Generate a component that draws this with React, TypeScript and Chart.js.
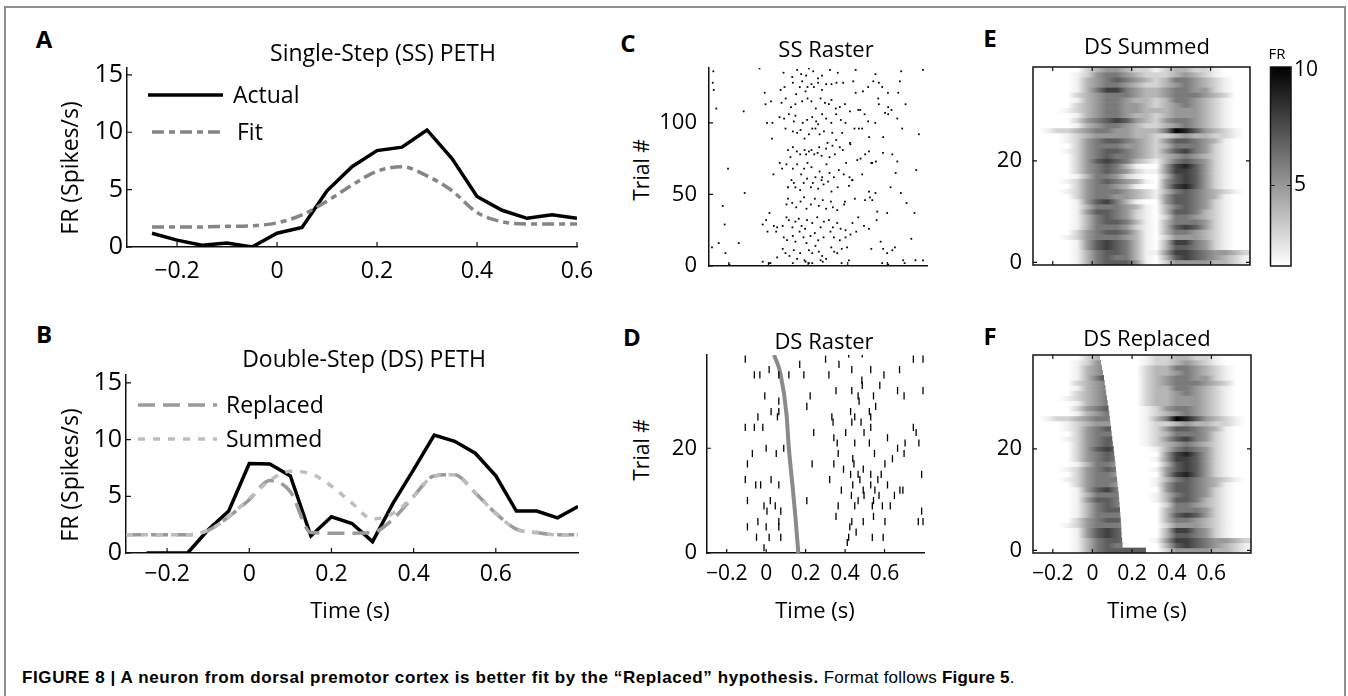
import React, { useEffect, useRef } from 'react';
import { Chart, registerables } from 'chart.js';
Chart.register(...registerables);

const FONT = '"Open Sans", "Noto Sans", sans-serif';
const INK = '#111111';

// ---------- Panel A : single-step PETH ----------
const ssTime = [-0.25, -0.2, -0.15, -0.1, -0.05, 0, 0.05, 0.1, 0.15, 0.2, 0.25, 0.3, 0.35, 0.4, 0.45, 0.5, 0.55, 0.6];
const ssActual = [1.2, 0.6, 0.15, 0.35, 0, 1.2, 1.7, 4.9, 7.0, 8.4, 8.7, 10.2, 7.7, 4.4, 3.2, 2.5, 2.8, 2.5];
const ssFit = [1.75, 1.75, 1.75, 1.8, 1.85, 2.1, 2.8, 4.0, 5.4, 6.6, 7.0, 6.2, 4.9, 3.0, 2.2, 2.0, 2.0, 2.0];
const pethXTicks = [-0.2, 0, 0.2, 0.4, 0.6];
const frTicks = [0, 5, 10, 15];

// ---------- Panel B : double-step PETH ----------
const dsTime = [-0.25, -0.2, -0.15, -0.1, -0.05, 0, 0.05, 0.1, 0.15, 0.2, 0.25, 0.3, 0.35, 0.4, 0.45, 0.5, 0.55, 0.6, 0.65, 0.7, 0.75, 0.8];
const dsActual = [0, 0, 0, 2.05, 3.7, 7.9, 7.85, 6.8, 1.5, 3.2, 2.6, 1.0, 4.4, 7.35, 10.4, 9.85, 8.8, 6.8, 3.7, 3.7, 3.1, 4.1];
const dsModelTime = [-0.3, -0.25, -0.2, -0.15, -0.1, -0.05, 0, 0.05, 0.1, 0.15, 0.2, 0.25, 0.3, 0.35, 0.4, 0.45, 0.5, 0.55, 0.6, 0.65, 0.7, 0.75, 0.8];
const dsReplaced = [1.6, 1.6, 1.6, 1.6, 2.0, 3.2, 4.7, 6.4, 5.4, 1.8, 1.75, 1.75, 1.8, 3.0, 5.0, 6.8, 6.9, 5.3, 3.5, 2.1, 1.8, 1.6, 1.6];
const dsSummed = [1.6, 1.6, 1.6, 1.6, 2.0, 3.2, 4.8, 6.4, 7.2, 7.0, 5.9, 4.4, 3.0, 3.5, 5.0, 6.8, 6.9, 5.3, 3.5, 2.1, 1.8, 1.6, 1.6];

// ---------- Panel C : SS raster  [time (s), trial] ----------
const ssRasterSpikes: [number, number][] = [
  [-0.278, 136], [-0.045, 138], [0.076, 135], [0.145, 137], [0.165, 134], [0.204, 138], [0.226, 136], [0.27, 133], [0.31, 137], [0.35, 135], [0.44, 137], [0.54, 134], [0.67, 136], [0.78, 137], [0.12, 132], [0.25, 131], [0.19, 133],
  [-0.281, 128], [-0.276, 123], [-0.019, 121], [0.061, 123], [0.081, 125], [0.123, 128], [0.14, 120], [0.158, 125], [0.17, 129], [0.187, 122], [0.197, 125], [0.217, 127], [0.229, 125], [0.251, 128], [0.27, 123], [0.291, 127], [0.318, 127], [0.343, 128], [0.377, 128], [0.428, 129], [0.44, 121], [0.477, 122], [0.503, 125], [0.529, 129], [0.557, 128], [0.574, 125], [0.603, 121], [0.655, 121], [0.663, 129],
  [-0.263, 110], [-0.125, 108], [-0.015, 113], [0.013, 115], [0.066, 114], [0.087, 117], [0.114, 111], [0.136, 113], [0.17, 115], [0.197, 117], [0.217, 115], [0.239, 110], [0.263, 117], [0.285, 114], [0.305, 113], [0.318, 116], [0.34, 110], [0.36, 111], [0.386, 113], [0.411, 108], [0.453, 109], [0.463, 109], [0.554, 117], [0.557, 113], [0.588, 107], [0.604, 111], [0.621, 109], [0.692, 113],
  [-0.007, 100], [0.02, 100], [0.056, 104], [0.079, 103], [0.103, 106], [0.128, 101], [0.136, 105], [0.173, 100], [0.195, 102], [0.221, 104], [0.241, 101], [0.251, 99], [0.271, 106], [0.291, 103], [0.317, 100], [0.342, 106], [0.365, 102], [0.389, 100], [0.434, 96], [0.456, 96], [0.473, 96], [0.485, 106], [0.503, 101], [0.539, 100], [0.604, 106], [0.65, 103], [0.675, 96],
  [0.018, 89], [0.086, 96], [0.123, 94], [0.145, 93], [0.162, 95], [0.182, 89], [0.204, 92], [0.221, 96], [0.237, 96], [0.258, 92], [0.28, 94], [0.298, 86], [0.322, 93], [0.342, 88], [0.372, 93], [0.411, 86], [0.508, 90], [0.579, 90], [0.759, 92],
  [0.099, 81], [0.111, 76], [0.123, 83], [0.143, 80], [0.16, 78], [0.182, 81], [0.19, 78], [0.204, 80], [0.217, 81], [0.231, 78], [0.248, 79], [0.256, 83], [0.268, 77], [0.291, 82], [0.308, 76], [0.323, 84], [0.335, 78], [0.36, 83], [0.375, 81], [0.392, 72], [0.413, 85], [0.448, 74], [0.465, 75], [0.488, 78], [0.507, 80], [0.524, 72], [0.542, 73], [0.578, 79], [0.625, 78], [0.65, 73],
  [-0.204, 68], [0.025, 64], [0.057, 72], [0.069, 68], [0.091, 71], [0.123, 68], [0.145, 71], [0.165, 64], [0.18, 68], [0.197, 72], [0.217, 69], [0.237, 62], [0.258, 66], [0.271, 62], [0.293, 71], [0.308, 65], [0.33, 62], [0.355, 67], [0.38, 64], [0.409, 62], [0.423, 60], [0.473, 64], [0.519, 72], [0.642, 65], [0.746, 67],
  [-0.12, 51], [0.099, 55], [0.116, 60], [0.128, 58], [0.136, 55], [0.16, 53], [0.178, 58], [0.195, 61], [0.214, 55], [0.224, 58], [0.251, 54], [0.268, 60], [0.278, 57], [0.301, 59], [0.318, 52], [0.349, 55], [0.406, 56], [0.423, 60], [0.507, 52], [0.54, 51], [0.616, 55], [0.668, 51],
  [-0.231, 42], [0.091, 43], [0.099, 47], [0.12, 44], [0.14, 41], [0.162, 45], [0.18, 48], [0.192, 40], [0.214, 43], [0.234, 47], [0.254, 42], [0.274, 46], [0.291, 40], [0.315, 45], [0.325, 41], [0.347, 39], [0.382, 43], [0.386, 45], [0.436, 47], [0.487, 46], [0.512, 48], [0.524, 46], [0.549, 38], [0.599, 37], [0.697, 44], [0.737, 37],
  [-0.221, 29], [-0.029, 29], [-0.012, 32], [0.005, 37], [0.027, 28], [0.044, 27], [0.072, 28], [0.091, 34], [0.103, 32], [0.121, 27], [0.136, 31], [0.153, 33], [0.167, 28], [0.185, 26], [0.195, 32], [0.221, 30], [0.246, 34], [0.263, 27], [0.28, 31], [0.305, 32], [0.325, 27], [0.347, 30], [0.364, 26], [0.389, 25], [0.424, 30], [0.453, 34], [0.482, 28], [0.507, 26], [0.546, 32],
  [-0.251, 16], [-0.15, 16], [-0.005, 24], [0.039, 24], [0.077, 20], [0.094, 18], [0.123, 21], [0.136, 17], [0.157, 24], [0.177, 20], [0.192, 16], [0.212, 21], [0.234, 23], [0.251, 18], [0.278, 20], [0.313, 24], [0.33, 20], [0.36, 18], [0.389, 20], [0.414, 22], [0.443, 24], [0.566, 17], [0.721, 19],
  [-0.285, 13], [-0.217, 9], [0.044, 6], [0.072, 12], [0.086, 9], [0.106, 7], [0.128, 11], [0.145, 5], [0.16, 9], [0.182, 4], [0.204, 11], [0.221, 9], [0.237, 14], [0.254, 10], [0.271, 7], [0.291, 5], [0.317, 13], [0.332, 10], [0.347, 9], [0.37, 12], [0.397, 13], [0.406, 4], [0.519, 12], [0.579, 12], [0.599, 9], [0.625, 11], [0.638, 13],
  [-0.029, 3], [0.002, 2], [0.01, 2], [0.123, 2], [0.187, 3], [0.204, 2], [0.221, 2], [0.263, 4], [0.274, 3], [0.369, 2], [0.574, 2], [0.604, 1], [0.68, 4], [0.687, 2], [0.742, 4], [0.78, 4], [-0.197, 1],
];
const ssTrialTicks = [0, 50, 100];

// ---------- Panel D : DS raster  [trial, spike times] ----------
const dsRasterRows: [number, number[]][] = [
  [38, [0.418, 0.487]],
  [37, [-0.106, 0.301, 0.746, 0.795]],
  [36, [0.17, 0.369]],
  [35, [0.015, 0.434, 0.53, 0.676]],
  [34, [-0.06, -0.032, 0.064, 0.115, 0.191, 0.318, 0.597]],
  [33, [0.485]],
  [32, [0.487, 0.576]],
  [31, [0.354, 0.434, 0.666, 0.795]],
  [30, [-0.007, 0.223, 0.466, 0.544, 0.699]],
  [29, [0.064, 0.471]],
  [28, [0.206, 0.555]],
  [27, [0.025, 0.064, 0.428, 0.523]],
  [26, [-0.042, 0.057, 0.333, 0.449, 0.53]],
  [25, [0.339, 0.434, 0.481]],
  [24, [-0.106, -0.06, -0.017, 0.53, 0.746]],
  [23, [0.241, 0.403, 0.496, 0.76]],
  [22, [0.343, 0.615]],
  [21, [0.36, 0.449, 0.523, 0.704, 0.774]],
  [20, [0.0, 0.089, 0.666]],
  [19, [-0.07, 0.051, 0.365, 0.549, 0.699]],
  [18, [0.439, 0.64]],
  [17, [-0.095, 0.233, 0.343, 0.445, 0.602]],
  [16, [0.392, 0.492]],
  [15, [0.428, 0.466, 0.53, 0.583, 0.788]],
  [14, [-0.106, 0.025, 0.322, 0.475, 0.566]],
  [13, [-0.053, -0.028, 0.064, 0.439, 0.53, 0.615]],
  [12, [0.381, 0.492, 0.551, 0.678, 0.693]],
  [11, [0.432, 0.496, 0.572, 0.65]],
  [10, [-0.095, 0.021, 0.206, 0.466, 0.544]],
  [9, [-0.011, 0.046, 0.365, 0.449, 0.538, 0.589, 0.629]],
  [8, [0.004, 0.074, 0.788]],
  [7, [0.354, 0.544]],
  [6, [-0.042, 0.064, 0.434, 0.492, 0.602, 0.771, 0.795]],
  [5, [-0.095, 0.0, 0.064, 0.424]],
  [4, [0.456]],
  [3, [-0.049, 0.015, 0.074, 0.418, 0.538, 0.593]],
  [2, [0.411]],
  [1, [-0.011]],
];
const dsStepTrials = [0, 7, 13.4, 20, 26.5, 34.3, 37.8];
const dsStepTimes = [0.163, 0.148, 0.132, 0.115, 0.103, 0.072, 0.04];
const dsTrialTicks = [0, 20];

// ---------- Panels E/F : heat maps (FR, spikes/s) ----------
const heatBinCenters = [-0.275, -0.225, -0.175, -0.125, -0.075, -0.025, 0.025, 0.075, 0.125, 0.175, 0.225, 0.275, 0.325, 0.375, 0.425, 0.475, 0.525, 0.575, 0.625, 0.675, 0.725, 0.775];
const cMin = 1.5;
const cMax = 10.15;
const colorbarTicks = [5, 10];

// DS Summed, trial 0 (bottom) .. 38 (top)
const dsSummedRows = [
  [1, 1, 1, 1, 2, 4, 6, 7, 7, 7, 5, 2, 1, 3, 5, 5, 5, 5, 4, 4, 3, 2],
  [1, 1, 1, 1, 2, 4, 6, 7, 6, 6, 4, 2, 1, 4, 7, 8, 7, 6, 5, 4, 3, 2],
  [1, 1, 1, 1, 2, 4, 6, 7, 7, 6, 4, 2, 2, 5, 8, 8, 7, 6, 5, 5, 4, 3],
  [1, 1, 1, 1, 2, 5, 7, 8, 7, 6, 4, 2, 1, 4, 7, 7, 6, 5, 3, 2, 1, 1],
  [1, 1, 1, 1, 2, 5, 7, 8, 7, 6, 4, 2, 1, 4, 8, 8, 6, 5, 3, 2, 1, 1],
  [1, 1, 1, 2, 3, 5, 6, 6, 6, 5, 4, 2, 1, 3, 5, 5, 5, 4, 3, 2, 1, 1],
  [1, 1, 1, 1, 3, 5, 6, 7, 7, 6, 4, 2, 1, 4, 6, 6, 5, 4, 3, 2, 1, 1],
  [1, 1, 1, 1, 2, 4, 6, 6, 6, 5, 3, 2, 1, 4, 7, 8, 7, 5, 3, 2, 1, 1],
  [1, 1, 1, 1, 2, 4, 6, 7, 7, 6, 4, 2, 1, 4, 6, 6, 6, 5, 3, 2, 1, 1],
  [1, 1, 1, 1, 2, 4, 6, 7, 6, 5, 3, 2, 1, 3, 6, 6, 5, 4, 3, 2, 1, 1],
  [1, 1, 1, 1, 2, 5, 7, 7, 6, 5, 3, 2, 1, 4, 7, 7, 6, 4, 3, 2, 1, 1],
  [1, 1, 1, 1, 2, 4, 6, 6, 6, 5, 4, 2, 1, 4, 6, 7, 6, 5, 3, 2, 1, 1],
  [1, 1, 1, 1, 2, 5, 7, 8, 6, 4, 2, 1, 1, 5, 7, 7, 6, 5, 3, 2, 1, 1],
  [1, 1, 1, 1, 3, 5, 6, 6, 5, 5, 4, 3, 2, 5, 7, 7, 6, 5, 4, 2, 1, 1],
  [1, 1, 1, 2, 3, 5, 6, 6, 6, 5, 4, 3, 2, 4, 6, 7, 6, 5, 4, 3, 2, 1],
  [1, 1, 1, 1, 3, 5, 6, 6, 5, 4, 2, 1, 1, 5, 8, 9, 7, 5, 3, 2, 1, 1],
  [1, 1, 1, 2, 3, 5, 6, 7, 6, 5, 4, 2, 1, 5, 7, 8, 7, 5, 3, 2, 1, 1],
  [1, 1, 1, 1, 2, 4, 6, 6, 5, 3, 2, 1, 1, 4, 7, 8, 7, 5, 3, 2, 1, 1],
  [1, 1, 1, 1, 3, 5, 6, 7, 6, 5, 3, 2, 2, 5, 8, 8, 7, 5, 3, 2, 1, 1],
  [1, 1, 1, 1, 3, 5, 6, 7, 6, 4, 2, 1, 1, 5, 8, 9, 7, 5, 3, 2, 1, 1],
  [1, 1, 1, 1, 3, 5, 7, 8, 7, 6, 4, 3, 2, 4, 6, 7, 6, 5, 3, 2, 1, 1],
  [1, 1, 1, 1, 3, 5, 6, 7, 6, 6, 5, 4, 3, 4, 5, 6, 5, 4, 3, 2, 1, 1],
  [1, 1, 1, 2, 3, 5, 6, 7, 7, 6, 5, 4, 3, 5, 7, 8, 6, 5, 3, 2, 1, 1],
  [1, 1, 1, 1, 3, 5, 6, 6, 6, 5, 5, 4, 3, 4, 6, 6, 6, 5, 3, 2, 1, 1],
  [1, 1, 1, 2, 3, 5, 6, 7, 7, 6, 5, 4, 3, 5, 7, 7, 6, 5, 4, 2, 1, 1],
  [1, 1, 1, 2, 3, 4, 5, 5, 5, 5, 4, 4, 3, 3, 4, 5, 4, 4, 3, 3, 2, 1],
  [1, 2, 3, 3, 4, 5, 6, 6, 5, 5, 4, 4, 4, 6, 10, 9, 7, 5, 4, 3, 2, 1],
  [1, 1, 1, 1, 2, 4, 5, 6, 6, 5, 4, 3, 3, 4, 5, 6, 5, 4, 3, 2, 1, 1],
  [1, 1, 1, 1, 3, 5, 6, 7, 8, 7, 5, 4, 3, 5, 6, 6, 5, 4, 3, 2, 1, 1],
  [1, 1, 1, 1, 2, 4, 5, 6, 6, 5, 4, 4, 3, 4, 5, 5, 5, 4, 3, 2, 1, 1],
  [1, 1, 1, 2, 3, 4, 5, 6, 6, 5, 5, 4, 4, 4, 5, 5, 5, 4, 3, 2, 1, 1],
  [1, 1, 1, 1, 3, 4, 5, 6, 6, 5, 5, 4, 3, 4, 5, 6, 5, 4, 3, 2, 1, 1],
  [1, 1, 1, 1, 2, 4, 5, 6, 6, 5, 4, 4, 3, 4, 6, 6, 5, 4, 3, 2, 1, 1],
  [1, 1, 1, 1, 3, 4, 5, 6, 6, 6, 5, 4, 4, 5, 6, 6, 6, 5, 4, 3, 1, 1],
  [1, 1, 1, 1, 2, 4, 6, 8, 8, 6, 5, 4, 4, 5, 6, 6, 5, 5, 3, 2, 1, 1],
  [1, 1, 1, 1, 2, 4, 5, 6, 6, 5, 4, 3, 3, 4, 5, 6, 5, 4, 3, 2, 1, 1],
  [1, 1, 1, 1, 2, 4, 5, 6, 7, 6, 5, 4, 3, 4, 6, 6, 5, 4, 3, 2, 1, 1],
  [1, 1, 1, 1, 2, 3, 5, 6, 6, 5, 4, 3, 3, 3, 4, 5, 4, 3, 2, 1, 1, 1],
  [1, 1, 1, 1, 1, 3, 4, 5, 5, 4, 3, 3, 2, 3, 4, 4, 3, 3, 2, 1, 1, 1],
];

// DS Replaced: early response (bins -0.275..0.275), cut at the second step
const dsReplacedEarly = [
  [1, 1, 1, 1, 2, 4, 6, 7, 7, 7, 7, 7],
  [1, 1, 1, 1, 2, 4, 6, 7, 6, 6, 4, 2],
  [1, 1, 1, 1, 2, 4, 6, 7, 7, 6, 4, 2],
  [1, 1, 1, 1, 2, 5, 7, 8, 7, 6, 4, 2],
  [1, 1, 1, 1, 2, 5, 7, 8, 7, 6, 4, 2],
  [1, 1, 1, 2, 3, 5, 6, 6, 6, 5, 4, 2],
  [1, 1, 1, 1, 3, 5, 6, 7, 7, 6, 4, 2],
  [1, 1, 1, 1, 2, 4, 6, 6, 6, 5, 3, 2],
  [1, 1, 1, 1, 2, 4, 6, 7, 7, 6, 4, 2],
  [1, 1, 1, 1, 2, 4, 6, 7, 6, 5, 3, 2],
  [1, 1, 1, 1, 2, 5, 7, 7, 6, 5, 3, 2],
  [1, 1, 1, 1, 2, 4, 6, 6, 6, 5, 4, 2],
  [1, 1, 1, 1, 2, 5, 7, 8, 6, 4, 2, 1],
  [1, 1, 1, 1, 3, 5, 6, 6, 5, 5, 4, 3],
  [1, 1, 1, 2, 3, 5, 6, 6, 6, 5, 4, 3],
  [1, 1, 1, 1, 3, 5, 6, 6, 5, 4, 2, 1],
  [1, 1, 1, 2, 3, 5, 6, 7, 6, 5, 4, 2],
  [1, 1, 1, 1, 2, 4, 6, 6, 5, 3, 2, 1],
  [1, 1, 1, 1, 3, 5, 6, 7, 6, 5, 3, 2],
  [1, 1, 1, 1, 3, 5, 6, 7, 6, 4, 2, 1],
  [1, 1, 1, 1, 3, 5, 7, 8, 7, 6, 4, 3],
  [1, 1, 1, 1, 3, 5, 6, 7, 6, 6, 5, 4],
  [1, 1, 1, 2, 3, 5, 6, 7, 7, 6, 5, 4],
  [1, 1, 1, 1, 3, 5, 6, 6, 6, 5, 5, 4],
  [1, 1, 1, 2, 3, 5, 6, 7, 7, 6, 5, 4],
  [1, 1, 1, 2, 3, 4, 5, 5, 5, 5, 4, 4],
  [1, 2, 3, 3, 4, 5, 6, 6, 5, 5, 4, 4],
  [1, 1, 1, 1, 2, 4, 5, 6, 6, 5, 4, 3],
  [1, 1, 1, 1, 3, 5, 6, 7, 8, 7, 5, 4],
  [1, 1, 1, 1, 2, 4, 5, 6, 6, 5, 4, 4],
  [1, 1, 1, 2, 3, 4, 5, 6, 6, 5, 5, 4],
  [1, 1, 1, 1, 3, 4, 5, 6, 6, 5, 5, 4],
  [1, 1, 1, 1, 2, 4, 5, 6, 6, 5, 4, 4],
  [1, 1, 1, 1, 3, 4, 5, 6, 6, 6, 5, 4],
  [1, 1, 1, 1, 2, 4, 6, 8, 8, 6, 5, 4],
  [1, 1, 1, 1, 2, 4, 5, 6, 6, 5, 4, 3],
  [1, 1, 1, 1, 2, 4, 5, 6, 7, 6, 5, 4],
  [1, 1, 1, 1, 2, 3, 5, 6, 6, 5, 4, 3],
  [1, 1, 1, 1, 1, 3, 4, 5, 5, 4, 3, 3],
];
// DS Replaced: late response (bins 0.225..0.775)
const dsReplacedLate = [
  [1, 1, 1, 3, 5, 5, 5, 5, 4, 4, 3, 2],
  [1, 1, 1, 4, 7, 8, 7, 6, 5, 4, 3, 2],
  [1, 1, 2, 5, 8, 8, 7, 6, 5, 5, 4, 3],
  [1, 1, 1, 4, 7, 7, 6, 5, 3, 2, 1, 1],
  [1, 1, 1, 4, 8, 8, 6, 5, 3, 2, 1, 1],
  [1, 1, 1, 3, 5, 5, 5, 4, 3, 2, 1, 1],
  [1, 1, 1, 4, 6, 6, 5, 4, 3, 2, 1, 1],
  [1, 1, 1, 4, 7, 8, 7, 5, 3, 2, 1, 1],
  [1, 1, 1, 4, 6, 6, 6, 5, 3, 2, 1, 1],
  [1, 1, 1, 3, 6, 6, 5, 4, 3, 2, 1, 1],
  [1, 1, 2, 4, 7, 7, 6, 4, 3, 2, 1, 1],
  [1, 1, 2, 4, 6, 7, 6, 5, 3, 2, 1, 1],
  [1, 1, 1, 5, 7, 7, 6, 5, 3, 2, 1, 1],
  [1, 1, 2, 5, 7, 7, 6, 5, 4, 2, 1, 1],
  [1, 1, 2, 4, 6, 7, 6, 5, 4, 3, 2, 1],
  [1, 1, 1, 5, 8, 9, 7, 5, 3, 2, 1, 1],
  [1, 1, 2, 5, 7, 8, 7, 5, 3, 2, 1, 1],
  [1, 1, 1, 4, 7, 8, 7, 5, 3, 2, 1, 1],
  [1, 1, 2, 5, 8, 8, 7, 5, 3, 2, 1, 1],
  [1, 1, 1, 5, 8, 9, 7, 5, 3, 2, 1, 1],
  [1, 1, 2, 4, 6, 7, 6, 5, 3, 2, 1, 1],
  [1, 2, 3, 4, 5, 6, 5, 4, 3, 2, 1, 1],
  [1, 2, 3, 5, 7, 8, 6, 5, 3, 2, 1, 1],
  [1, 2, 3, 4, 6, 6, 6, 5, 3, 2, 1, 1],
  [1, 2, 3, 5, 7, 7, 6, 5, 4, 2, 1, 1],
  [1, 2, 3, 3, 4, 5, 4, 4, 3, 3, 2, 1],
  [1, 2, 4, 6, 10, 9, 7, 5, 4, 3, 2, 1],
  [1, 2, 3, 4, 5, 6, 5, 4, 3, 2, 1, 1],
  [1, 2, 3, 5, 6, 6, 5, 4, 3, 2, 1, 1],
  [1, 3, 4, 4, 5, 5, 5, 4, 3, 2, 1, 1],
  [1, 3, 4, 4, 5, 5, 5, 4, 3, 2, 1, 1],
  [1, 3, 4, 4, 5, 6, 5, 4, 3, 2, 1, 1],
  [1, 3, 4, 4, 6, 6, 5, 4, 3, 2, 1, 1],
  [1, 3, 4, 5, 6, 6, 6, 5, 4, 3, 1, 1],
  [1, 3, 4, 5, 6, 6, 5, 5, 3, 2, 1, 1],
  [1, 3, 4, 4, 5, 6, 5, 4, 3, 2, 1, 1],
  [1, 3, 4, 4, 6, 6, 5, 4, 3, 2, 1, 1],
  [1, 2, 3, 3, 4, 5, 4, 3, 2, 1, 1, 1],
  [1, 2, 3, 3, 4, 4, 3, 3, 2, 1, 1, 1],
];
// second-step (cut) time for each replaced row
const dsReplacedCut = [0.27, 0.152, 0.15, 0.147, 0.146, 0.145, 0.143, 0.141, 0.139, 0.137, 0.135, 0.133, 0.13, 0.127, 0.124, 0.121, 0.119, 0.116, 0.113, 0.11, 0.107, 0.103, 0.1, 0.097, 0.094, 0.091, 0.088, 0.085, 0.081, 0.077, 0.073, 0.069, 0.066, 0.062, 0.058, 0.053, 0.048, 0.043, 0.038];
const heatTrialTicks = [0, 20];

// ---------- helpers ----------
const fmt = (v: number) => (v < 0 ? '\u2212' + String(Math.abs(v)) : String(v));
const grayOf = (v: number) => {
  const f = Math.min(1, Math.max(0, (v - cMin) / (cMax - cMin)));
  const g = Math.round(255 * (1 - f));
  return `rgb(${g},${g},${g})`;
};

type Box = { x: number; y: number; w: number; h: number };
type Area = { l: number; t: number; r: number; b: number };

function padFor(c: Box, a: Area, yW: number, xH: number, yRight = false) {
  return yRight
    ? { left: a.l - c.x, right: c.x + c.w - a.r - yW, top: a.t - c.y, bottom: c.y + c.h - a.b - xH }
    : { left: a.l - c.x - yW, right: c.x + c.w - a.r, top: a.t - c.y, bottom: c.y + c.h - a.b - xH };
}

function lin(min: number, max: number, tickVals: number[], o: { size: number; pad: number; fs: number; labels?: boolean; border?: boolean; position?: string; display?: boolean }) {
  return {
    type: 'linear',
    min,
    max,
    position: o.position,
    display: o.display ?? true,
    grid: { display: false, drawTicks: false },
    border: { display: o.border ?? true, color: INK, width: 1.5 },
    ticks: {
      display: o.labels ?? true,
      padding: o.pad,
      autoSkip: false,
      maxRotation: 0,
      minRotation: 0,
      color: '#000',
      font: { family: FONT, size: o.fs },
      callback: (v: number) => fmt(v),
    },
    afterBuildTicks: (s: any) => {
      s.ticks = tickVals.map((value) => ({ value }));
    },
    afterFit: (s: any) => {
      if (s.isHorizontal()) s.height = o.size;
      else s.width = o.size;
      s.paddingTop = 0;
      s.paddingBottom = 0;
      s.paddingLeft = 0;
      s.paddingRight = 0;
    },
  };
}

// ---------- plugins ----------
const inTicks = {
  id: 'inTicks',
  afterDatasetsDraw(chart: any, _a: any, o: any) {
    if (!o || !o.len) return;
    const { ctx, chartArea: a } = chart;
    const xs = chart.scales.x;
    const ys = chart.scales.y;
    ctx.save();
    ctx.strokeStyle = INK;
    ctx.lineWidth = 1.2;
    ctx.beginPath();
    if (o.x && xs) {
      for (const t of xs.ticks) {
        const p = xs.getPixelForValue(t.value);
        ctx.moveTo(p, a.bottom);
        ctx.lineTo(p, a.bottom - o.len);
        if (o.mirror) {
          ctx.moveTo(p, a.top);
          ctx.lineTo(p, a.top + o.len);
        }
      }
    }
    if (o.y && ys) {
      for (const t of ys.ticks) {
        const p = ys.getPixelForValue(t.value);
        ctx.moveTo(a.left, p);
        ctx.lineTo(a.left + o.len, p);
        if (o.mirror) {
          ctx.moveTo(a.right, p);
          ctx.lineTo(a.right - o.len, p);
        }
      }
    }
    ctx.stroke();
    if (o.box) {
      ctx.lineWidth = 1.5;
      ctx.strokeRect(a.left, a.top, a.right - a.left, a.bottom - a.top);
    }
    ctx.restore();
  },
};

const heatLayers = {
  id: 'heatLayers',
  beforeDatasetsDraw(chart: any, _a: any, o: any) {
    if (!o || !o.layers) return;
    const { ctx, chartArea: a } = chart;
    const xs = chart.scales.x;
    const ys = chart.scales.y;
    ctx.save();
    ctx.beginPath();
    ctx.rect(a.left, a.top, a.right - a.left, a.bottom - a.top);
    ctx.clip();
    for (const layer of o.layers) {
      const c: number[] = layer.centers;
      const c0 = c[0];
      const c1 = c[c.length - 1];
      const p0 = xs.getPixelForValue(c0);
      const p1 = xs.getPixelForValue(c1);
      layer.rows.forEach((vals: number[], r: number) => {
        const yt = ys.getPixelForValue(r + 0.5);
        const yb = ys.getPixelForValue(r - 0.5);
        const g = ctx.createLinearGradient(p0, 0, p1, 0);
        vals.forEach((v, i) => g.addColorStop((c[i] - c0) / (c1 - c0), grayOf(v)));
        let R = a.right;
        if (layer.cut) R = Math.min(R, xs.getPixelForValue(layer.cut[r]));
        ctx.fillStyle = g;
        ctx.fillRect(a.left, Math.min(yt, yb) - 0.3, R - a.left, Math.abs(yb - yt) + 0.6);
      });
    }
    ctx.restore();
  },
};

const colorbarFill = {
  id: 'colorbarFill',
  beforeDatasetsDraw(chart: any, _a: any, o: any) {
    if (!o || !o.on) return;
    const { ctx, chartArea: a } = chart;
    const ys = chart.scales.y;
    const pb = ys.getPixelForValue(cMin);
    const pt = ys.getPixelForValue(cMax);
    const g = ctx.createLinearGradient(0, pb, 0, pt);
    g.addColorStop(0, grayOf(cMin));
    g.addColorStop(1, grayOf(cMax));
    ctx.save();
    ctx.fillStyle = g;
    ctx.fillRect(a.left, a.top, a.right - a.left, a.bottom - a.top);
    ctx.restore();
  },
};

const innerLegend = {
  id: 'innerLegend',
  afterDatasetsDraw(chart: any, _a: any, o: any) {
    if (!o || !o.items) return;
    const ctx = chart.ctx;
    ctx.save();
    for (const it of o.items) {
      const ds = chart.data.datasets[it.ds];
      ctx.strokeStyle = ds.borderColor;
      ctx.lineWidth = ds.borderWidth;
      ctx.lineCap = 'butt';
      ctx.setLineDash(ds.borderDash || []);
      ctx.beginPath();
      ctx.moveTo(it.x0, it.y);
      ctx.lineTo(it.x1, it.y);
      ctx.stroke();
      ctx.setLineDash([]);
      ctx.fillStyle = '#000';
      ctx.font = `${o.fs}px ${FONT}`;
      ctx.textBaseline = 'middle';
      ctx.textAlign = 'left';
      ctx.fillText(ds.label, it.tx, it.y + 1);
    }
    ctx.restore();
  },
};

Chart.register(inTicks as any, heatLayers as any, colorbarFill as any, innerLegend as any);

const baseOpts = {
  animation: false,
  responsive: false,
  maintainAspectRatio: false,
  events: [],
};
const noLegend = { legend: { display: false }, tooltip: { enabled: false }, title: { display: false } };

// ---------- chart boxes ----------
const boxA: Box = { x: 60, y: 55, w: 540, h: 245 };
const areaA: Area = { l: 127, t: 68, r: 577, b: 247 };
const boxB: Box = { x: 60, y: 360, w: 540, h: 240 };
const areaB: Area = { l: 126, t: 375, r: 578, b: 553 };
const boxC: Box = { x: 655, y: 60, w: 290, h: 235 };
const areaC: Area = { l: 709, t: 68, r: 927, b: 266 };
const boxD: Box = { x: 655, y: 345, w: 290, h: 255 };
const areaD: Area = { l: 707, t: 355, r: 924, b: 553 };
const boxE: Box = { x: 990, y: 58, w: 268, h: 237 };
const areaE: Area = { l: 1033, t: 67, r: 1250, b: 265 };
const boxF: Box = { x: 990, y: 345, w: 268, h: 255 };
const areaF: Area = { l: 1033, t: 355, r: 1251, b: 553 };
const boxCB: Box = { x: 1262, y: 58, w: 60, h: 237 };
const areaCB: Area = { l: 1270.5, t: 67, r: 1291, b: 266 };

const pts = (xs: number[], ys: number[]) => xs.map((x, i) => ({ x, y: ys[i] }));

function makeA() {
  return {
    type: 'scatter',
    data: {
      datasets: [
        { label: 'Fit', data: pts(ssTime, ssFit), showLine: true, borderColor: '#858585', borderWidth: 3.5, borderDash: [12, 5, 6, 5], borderCapStyle: 'butt', pointRadius: 0, cubicInterpolationMode: 'monotone' },
        { label: 'Actual', data: pts(ssTime, ssActual), showLine: true, borderColor: '#000', borderWidth: 3.5, pointRadius: 0, tension: 0 },
      ],
    },
    options: {
      ...baseOpts,
      layout: { autoPadding: false, padding: padFor(boxA, areaA, 67, 40) },
      scales: {
        x: lin(-0.3, 0.6, pethXTicks, { size: 40, pad: 11, fs: 23 }),
        y: lin(0, 15.6, frTicks, { size: 67, pad: 4, fs: 25 }),
      },
      plugins: {
        ...noLegend,
        inTicks: { len: 5, x: true, y: true },
        innerLegend: {
          fs: 23,
          items: [
            { ds: 1, x0: 148 - boxA.x, x1: 223 - boxA.x, y: 95 - boxA.y, tx: 233 - boxA.x },
            { ds: 0, x0: 152 - boxA.x, x1: 222 - boxA.x, y: 132 - boxA.y, tx: 237 - boxA.x },
          ],
        },
      },
    },
  };
}

function makeB() {
  return {
    type: 'scatter',
    data: {
      datasets: [
        { label: 'Summed', data: pts(dsModelTime, dsSummed), showLine: true, borderColor: '#bdbdbd', borderWidth: 3.5, borderDash: [7, 8], borderCapStyle: 'butt', pointRadius: 0, cubicInterpolationMode: 'monotone' },
        { label: 'Replaced', data: pts(dsModelTime, dsReplaced), showLine: true, borderColor: '#9a9a9a', borderWidth: 3.5, borderDash: [17, 8], borderCapStyle: 'butt', pointRadius: 0, cubicInterpolationMode: 'monotone' },
        { label: 'Actual', data: pts(dsTime, dsActual), showLine: true, borderColor: '#000', borderWidth: 3.5, pointRadius: 0, tension: 0 },
      ],
    },
    options: {
      ...baseOpts,
      layout: { autoPadding: false, padding: padFor(boxB, areaB, 66, 40) },
      scales: {
        x: lin(-0.3, 0.8, pethXTicks, { size: 40, pad: 8, fs: 23 }),
        y: lin(0, 15.7, frTicks, { size: 66, pad: 4, fs: 25 }),
      },
      plugins: {
        ...noLegend,
        inTicks: { len: 5, x: true, y: true },
        innerLegend: {
          fs: 23,
          items: [
            { ds: 1, x0: 138 - boxB.x, x1: 217 - boxB.x, y: 405 - boxB.y, tx: 226 - boxB.x },
            { ds: 0, x0: 138 - boxB.x, x1: 217 - boxB.x, y: 439 - boxB.y, tx: 226 - boxB.x },
          ],
        },
      },
    },
  };
}

function makeC() {
  return {
    type: 'scatter',
    data: {
      datasets: [
        { label: 'spikes', data: ssRasterSpikes.map(([t, tr]) => ({ x: t, y: tr })), pointStyle: 'rect', pointRadius: 1.25, backgroundColor: '#000', borderWidth: 0 },
      ],
    },
    options: {
      ...baseOpts,
      layout: { autoPadding: false, padding: padFor(boxC, areaC, 54, 25) },
      scales: {
        x: lin(-0.3, 0.8, pethXTicks, { size: 25, pad: 6, fs: 21, labels: false }),
        y: lin(0, 138.3, ssTrialTicks, { size: 54, pad: 12, fs: 22 }),
      },
      plugins: { ...noLegend, inTicks: { len: 4, x: true, y: true } },
    },
  };
}

function makeD() {
  const spikes: { x: number; y: number }[] = [];
  dsRasterRows.forEach(([trial, times]) => times.forEach((t) => spikes.push({ x: t, y: trial })));
  return {
    type: 'scatter',
    data: {
      datasets: [
        { label: 'spikes', data: spikes, pointStyle: 'line', pointRotation: 90, pointRadius: 3.6, borderColor: '#000', borderWidth: 1.3 },
        { label: 'second step', data: pts(dsStepTimes, dsStepTrials), showLine: true, borderColor: '#8a8a8a', borderWidth: 4, pointRadius: 0, cubicInterpolationMode: 'monotone' },
      ],
    },
    options: {
      ...baseOpts,
      layout: { autoPadding: false, padding: padFor(boxD, areaD, 52, 40) },
      scales: {
        x: lin(-0.3, 0.8, pethXTicks, { size: 40, pad: 8, fs: 21 }),
        y: lin(0, 37.8, dsTrialTicks, { size: 52, pad: 10, fs: 22 }),
      },
      plugins: { ...noLegend, inTicks: { len: 4, x: true, y: true } },
    },
  };
}

function makeE() {
  return {
    type: 'scatter',
    data: { datasets: [] },
    options: {
      ...baseOpts,
      layout: { autoPadding: false, padding: padFor(boxE, areaE, 43, 25) },
      scales: {
        x: lin(-0.3, 0.8, pethXTicks, { size: 25, pad: 6, fs: 21, labels: false, border: false }),
        y: lin(-0.5, 38.5, heatTrialTicks, { size: 43, pad: 11, fs: 22, border: false }),
      },
      plugins: {
        ...noLegend,
        heatLayers: { layers: [{ rows: dsSummedRows, centers: heatBinCenters }] },
        inTicks: { len: 4, x: true, y: true, mirror: true, box: true },
      },
    },
  };
}

function makeF() {
  return {
    type: 'scatter',
    data: { datasets: [] },
    options: {
      ...baseOpts,
      layout: { autoPadding: false, padding: padFor(boxF, areaF, 43, 40) },
      scales: {
        x: lin(-0.3, 0.8, pethXTicks, { size: 40, pad: 8, fs: 21, border: false }),
        y: lin(-0.5, 38.5, heatTrialTicks, { size: 43, pad: 11, fs: 22, border: false }),
      },
      plugins: {
        ...noLegend,
        heatLayers: {
          layers: [
            { rows: dsReplacedLate, centers: heatBinCenters.slice(10) },
            { rows: dsReplacedEarly, centers: heatBinCenters.slice(0, 12), cut: dsReplacedCut },
          ],
        },
        inTicks: { len: 4, x: true, y: true, mirror: true, box: true },
      },
    },
  };
}

function makeCB() {
  return {
    type: 'scatter',
    data: { datasets: [] },
    options: {
      ...baseOpts,
      layout: { autoPadding: false, padding: padFor(boxCB, areaCB, 31, 0, true) },
      scales: {
        x: { type: 'linear', display: false, min: 0, max: 1 },
        y: lin(cMin, cMax, colorbarTicks, { size: 31, pad: 3, fs: 21, border: false, position: 'right' }),
      },
      plugins: {
        ...noLegend,
        colorbarFill: { on: true },
        inTicks: { len: 4, x: false, y: true, mirror: true, box: true },
      },
    },
  };
}

function ChartBox({ box, make }: { box: Box; make: () => any }) {
  const ref = useRef<HTMLCanvasElement>(null);
  useEffect(() => {
    const c = new Chart(ref.current as HTMLCanvasElement, make());
    return () => c.destroy();
  }, []);
  return (
    <canvas
      ref={ref}
      width={box.w}
      height={box.h}
      style={{ position: 'absolute', left: box.x, top: box.y, width: box.w, height: box.h }}
    />
  );
}

function Txt({ x, y, children, size = 23, bold = false, rot = false }: { x: number; y: number; children: React.ReactNode; size?: number; bold?: boolean; rot?: boolean }) {
  return (
    <div
      style={{
        position: 'absolute',
        left: x,
        top: y,
        transform: `translate(-50%, -50%)${rot ? ' rotate(-90deg)' : ''}`,
        font: `${bold ? 'bold ' : ''}${size}px ${FONT}`,
        lineHeight: 1,
        whiteSpace: 'nowrap',
        color: '#000',
      }}
    >
      {children}
    </div>
  );
}

export default function App() {
  return (
    <div style={{ position: 'absolute', left: 0, top: 0, width: 1348, height: 696, overflow: 'hidden', background: '#fff' }}>
      <div style={{ position: 'absolute', left: 4, top: 6, width: 1342, height: 740, border: '2px solid #8e8e8e', boxSizing: 'border-box' }} />

      <ChartBox box={boxA} make={makeA} />
      <ChartBox box={boxB} make={makeB} />
      <ChartBox box={boxC} make={makeC} />
      <ChartBox box={boxD} make={makeD} />
      <ChartBox box={boxE} make={makeE} />
      <ChartBox box={boxF} make={makeF} />
      <ChartBox box={boxCB} make={makeCB} />

      <Txt x={44} y={39} bold size={24}>A</Txt>
      <Txt x={44} y={334} bold size={24}>B</Txt>
      <Txt x={628} y={43} bold size={24}>C</Txt>
      <Txt x={632} y={337} bold size={24}>D</Txt>
      <Txt x={990} y={38} bold size={24}>E</Txt>
      <Txt x={990} y={336} bold size={24}>F</Txt>

      <Txt x={383} y={52}>Single-Step (SS) PETH</Txt>
      <Txt x={364} y={358}>Double-Step (DS) PETH</Txt>
      <Txt x={826} y={48} size={22}>SS Raster</Txt>
      <Txt x={824} y={340} size={22}>DS Raster</Txt>
      <Txt x={1147} y={45} size={22}>DS Summed</Txt>
      <Txt x={1147} y={337} size={22}>DS Replaced</Txt>
      <Txt x={1277} y={53} size={15}>FR</Txt>

      <Txt x={69} y={168} rot>FR (Spikes/s)</Txt>
      <Txt x={69} y={475} rot>FR (Spikes/s)</Txt>
      <Txt x={641} y={170} rot size={21}>Trial #</Txt>
      <Txt x={641} y={450} rot size={21}>Trial #</Txt>

      <Txt x={350} y={609} size={22}>Time (s)</Txt>
      <Txt x={815} y={609} size={22}>Time (s)</Txt>
      <Txt x={1147} y={609} size={22}>Time (s)</Txt>

      <div
        style={{
          position: 'absolute',
          left: 22,
          top: 677,
          transform: 'translateY(-50%)',
          font: 'bold 17px "Liberation Sans", Arial, sans-serif',
          letterSpacing: '0.6px',
          whiteSpace: 'nowrap',
          color: '#000',
          lineHeight: 1,
        }}
      >
        FIGURE 8 | A neuron from dorsal premotor cortex is better fit by the “Replaced” hypothesis.
        <span style={{ fontWeight: 'normal', letterSpacing: '0.2px' }}> Format follows </span>
        <span style={{ letterSpacing: '0.2px' }}>Figure 5</span>
        <span style={{ fontWeight: 'normal' }}>.</span>
      </div>
    </div>
  );
}
